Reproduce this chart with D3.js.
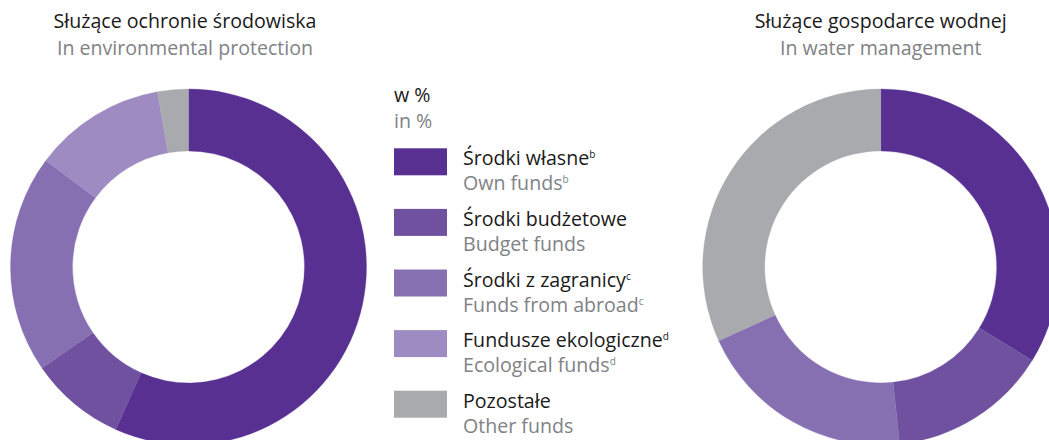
<!DOCTYPE html>
<html>
<head>
    <meta charset="utf-8">
    <title>donuts</title>
    <script src="https://cdn.jsdelivr.net/npm/d3@7/dist/d3.min.js"></script>
    <style>
        html, body { margin: 0; padding: 0; background: #fff; }
        svg { display: block; font-family: "Open Sans", "Noto Sans", sans-serif; }
    </style>
</head>
<body>
<svg width="1049" height="440"></svg>
<script>
    // categories (pl / en / footnote mark)
    var categoriesPl = ['Środki własne', 'Środki budżetowe', 'Środki z zagranicy', 'Fundusze ekologiczne', 'Pozostałe'];
    var categoriesEn = ['Own funds', 'Budget funds', 'Funds from abroad', 'Ecological funds', 'Other funds'];
    var notes = ['b', '', 'c', 'd', ''];
    var colors = ['#573092', '#6f51a0', '#8670b2', '#9e8bc2', '#a8aaae'];

    // shares in %
    var environment = [56.7, 8.7, 19.8, 12.0, 2.8];
    var water = [33.8, 14.5, 19.9, 0, 31.8];

    var titlesPl = ['Służące ochronie środowiska', 'Służące gospodarce wodnej'];
    var titlesEn = ['In environmental protection', 'In water management'];

    var FS = 19.6;

    var svg = d3.select('svg');

    var pie = d3.pie().sort(null).value(function (d) { return d; });
    var arc = d3.arc().innerRadius(116).outerRadius(178);

    var charts = [
        { data: environment, cx: 188.5, cy: 267, tx: 185 },
        { data: water, cx: 880.7, cy: 267, tx: 880.7 }
    ];

    charts.forEach(function (c, i) {
        var g = svg.append('g').attr('transform', 'translate(' + c.cx + ',' + c.cy + ')');
        g.selectAll('path')
            .data(pie(c.data))
            .enter()
            .append('path')
            .attr('d', arc)
            .attr('fill', function (d, k) { return colors[k]; })
            .attr('stroke', function (d, k) { return colors[k]; })
            .attr('stroke-width', 0.3);

        svg.append('text')
            .attr('x', c.tx).attr('y', 28)
            .attr('text-anchor', 'middle')
            .attr('font-size', FS)
            .attr('fill', '#1a1a1a')
            .text(titlesPl[i]);
        svg.append('text')
            .attr('x', c.tx).attr('y', 55)
            .attr('text-anchor', 'middle')
            .attr('font-size', FS)
            .attr('fill', '#808285')
            .text(titlesEn[i]);
    });

    // legend
    var lg = svg.append('g');
    lg.append('text').attr('x', 394).attr('y', 102).attr('font-size', FS).attr('fill', '#1a1a1a').text('w %');
    lg.append('text').attr('x', 394).attr('y', 128).attr('font-size', FS).attr('fill', '#808285').text('in %');

    var items = lg.selectAll('g.item')
        .data(categoriesPl)
        .enter()
        .append('g')
        .attr('class', 'item')
        .attr('transform', function (d, i) { return 'translate(394,' + (148.3 + i * 60.6) + ')'; });

    items.append('rect')
        .attr('width', 53).attr('height', 27)
        .attr('fill', function (d, i) { return colors[i]; });

    var pl = items.append('text')
        .attr('x', 69).attr('y', 17)
        .attr('font-size', FS)
        .attr('fill', '#1a1a1a')
        .text(function (d) { return d; });
    pl.append('tspan')
        .attr('font-size', 10).attr('dy', -7)
        .text(function (d, i) { return notes[i]; });

    var en = items.append('text')
        .attr('x', 69).attr('y', 42)
        .attr('font-size', FS)
        .attr('fill', '#808285')
        .text(function (d, i) { return categoriesEn[i]; });
    en.append('tspan')
        .attr('font-size', 10).attr('dy', -7)
        .text(function (d, i) { return notes[i]; });
</script>
</body>
</html>
